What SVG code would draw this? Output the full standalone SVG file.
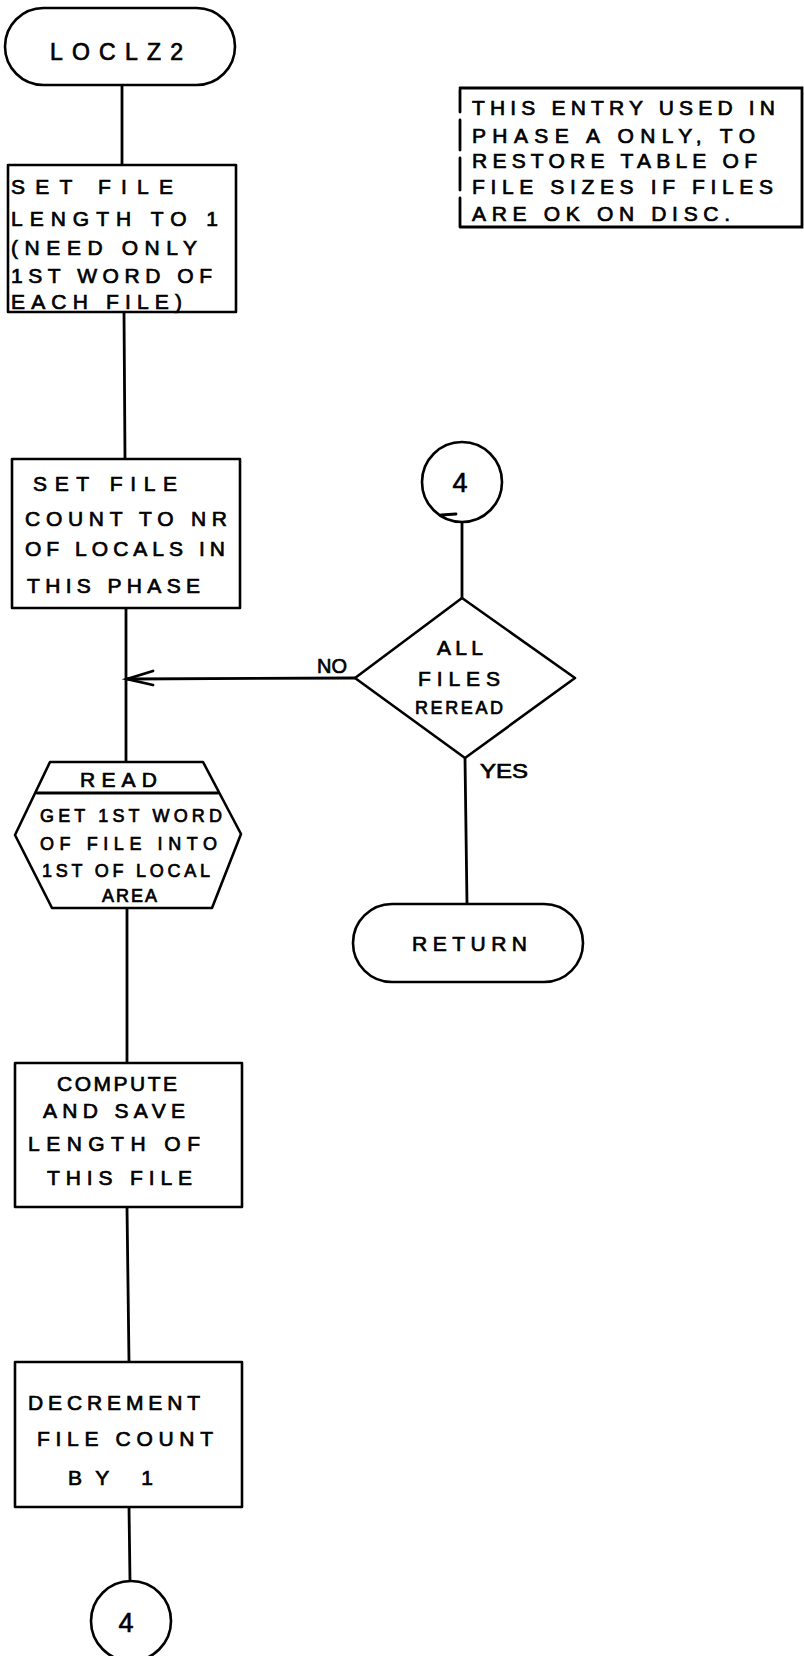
<svg xmlns="http://www.w3.org/2000/svg" width="804" height="1656" viewBox="0 0 804 1656">
  <style>
    .shape { fill: #fff; stroke: #000; stroke-width: 2.6; stroke-linejoin: round; }
    .line { fill: none; stroke: #000; stroke-width: 2.8; stroke-linecap: round; }
    .t { font-family: "Liberation Sans", Arial, sans-serif; font-size: 21px; fill: #000; stroke: #000; stroke-width: 0.7; }
    .big { font-size: 23px; }
    .sm { font-size: 18px; }
    .num { font-family: "Liberation Sans", Arial, sans-serif; font-size: 27px; fill: #000; stroke: #000; stroke-width: 0.6; text-anchor: middle; }
  </style>
  <rect width="804" height="1656" fill="#fff"/>

  <!-- connectors -->
  <g id="connectors">
    <line class="line" x1="122" y1="85" x2="122" y2="165"/>
    <line class="line" x1="124" y1="312" x2="125" y2="459"/>
    <line class="line" x1="126" y1="608" x2="126" y2="762"/>
    <line class="line" x1="127" y1="908" x2="127" y2="1063"/>
    <line class="line" x1="127" y1="1207" x2="129" y2="1362"/>
    <line class="line" x1="129" y1="1507" x2="130" y2="1581"/>
    <line class="line" x1="462" y1="523" x2="462" y2="598"/>
    <line class="line" x1="465" y1="758" x2="467" y2="904"/>
    <!-- NO branch back to the main flow -->
    <line class="line" x1="355" y1="678" x2="127" y2="679"/>
    <polyline class="line" points="153,671 127,679 153,685"/>
    <text class="t" x="317" y="673" textLength="30" lengthAdjust="spacingAndGlyphs">NO</text>
    <text class="t" x="480" y="778" textLength="48" lengthAdjust="spacingAndGlyphs">YES</text>
  </g>

  <!-- entry terminal -->
  <g id="start">
    <rect class="shape" x="5" y="8" width="230" height="77" rx="38.5" ry="38.5"/>
    <text class="t big" x="50" y="60" textLength="133" lengthAdjust="spacing">LOCLZ2</text>
  </g>

  <!-- side note -->
  <g id="note">
    <path class="line" d="M460,88 H802 V227 H460" stroke-width="2.2"/>
    <path class="line" d="M460,90 V112 M460,120 V150 M460,158 V190 M460,198 V226" stroke-width="2.2"/>
    <text class="t" x="472" y="115" textLength="303" lengthAdjust="spacing">THIS ENTRY USED IN</text>
    <text class="t" x="472" y="143" textLength="283" lengthAdjust="spacing">PHASE A ONLY, TO</text>
    <text class="t" x="472" y="168" textLength="285" lengthAdjust="spacing">RESTORE TABLE OF</text>
    <text class="t" x="472" y="194" textLength="301" lengthAdjust="spacing">FILE SIZES IF FILES</text>
    <text class="t" x="472" y="221" textLength="258" lengthAdjust="spacing">ARE OK ON DISC.</text>
  </g>

  <!-- set file length -->
  <g id="set-length">
    <rect class="shape" x="8" y="165" width="228" height="147"/>
    <text class="t" x="11" y="194" textLength="162" lengthAdjust="spacing">SET FILE</text>
    <text class="t" x="11" y="226" textLength="207" lengthAdjust="spacing">LENGTH TO 1</text>
    <text class="t" x="11" y="255" textLength="186" lengthAdjust="spacing">(NEED ONLY</text>
    <text class="t" x="11" y="283" textLength="201" lengthAdjust="spacing">1ST WORD OF</text>
    <text class="t" x="11" y="309" textLength="171" lengthAdjust="spacing">EACH FILE)</text>
  </g>

  <!-- set file count -->
  <g id="set-count">
    <rect class="shape" x="12" y="459" width="228" height="149"/>
    <text class="t" x="33" y="491" textLength="144" lengthAdjust="spacing">SET FILE</text>
    <text class="t" x="25" y="526" textLength="202" lengthAdjust="spacing">COUNT TO NR</text>
    <text class="t" x="25" y="556" textLength="200" lengthAdjust="spacing">OF LOCALS IN</text>
    <text class="t" x="27" y="593" textLength="173" lengthAdjust="spacing">THIS PHASE</text>
  </g>

  <!-- connector 4 (entry) -->
  <g id="conn4-in">
    <circle class="shape" cx="462" cy="482" r="40"/>
    <text class="num" x="460" y="492">4</text>
    <line class="line" x1="441" y1="515" x2="456" y2="514" stroke-width="2"/>
  </g>

  <!-- decision -->
  <g id="all-reread">
    <polygon class="shape" points="462,598 575,678 465,758 355,678"/>
    <text class="t" x="437" y="655" textLength="46" lengthAdjust="spacing">ALL</text>
    <text class="t" x="418" y="686" textLength="82" lengthAdjust="spacing">FILES</text>
    <text class="t sm" x="415" y="714" textLength="88" lengthAdjust="spacing">REREAD</text>
  </g>

  <!-- exit terminal -->
  <g id="return">
    <rect class="shape" x="353" y="904" width="230" height="78" rx="39" ry="39"/>
    <text class="t" x="412" y="951" textLength="115" lengthAdjust="spacing">RETURN</text>
  </g>

  <!-- read -->
  <g id="read">
    <polygon class="shape" points="50,762 203,762 241,834 212,908 52,908 15,835"/>
    <line class="line" x1="37" y1="793" x2="218" y2="793" stroke-width="2.4"/>
    <text class="t" x="80" y="787" textLength="77" lengthAdjust="spacing">READ</text>
    <text class="t sm" x="40" y="822" textLength="182" lengthAdjust="spacing">GET 1ST WORD</text>
    <text class="t sm" x="40" y="850" textLength="177" lengthAdjust="spacing">OF FILE INTO</text>
    <text class="t sm" x="42" y="877" textLength="168" lengthAdjust="spacing">1ST OF LOCAL</text>
    <text class="t sm" x="102" y="902" textLength="55" lengthAdjust="spacing">AREA</text>
  </g>

  <!-- compute length -->
  <g id="compute">
    <rect class="shape" x="15" y="1063" width="227" height="144"/>
    <text class="t" x="57" y="1091" textLength="120" lengthAdjust="spacing">COMPUTE</text>
    <text class="t" x="43" y="1118" textLength="142" lengthAdjust="spacing">AND SAVE</text>
    <text class="t" x="28" y="1151" textLength="172" lengthAdjust="spacing">LENGTH OF</text>
    <text class="t" x="47" y="1185" textLength="145" lengthAdjust="spacing">THIS FILE</text>
  </g>

  <!-- decrement -->
  <g id="decrement">
    <rect class="shape" x="15" y="1362" width="227" height="145"/>
    <text class="t" x="28" y="1410" textLength="172" lengthAdjust="spacing">DECREMENT</text>
    <text class="t" x="37" y="1446" textLength="176" lengthAdjust="spacing">FILE COUNT</text>
    <text class="t" x="68" y="1485" textLength="85" lengthAdjust="spacing">BY 1</text>
  </g>

  <!-- connector 4 (exit) -->
  <g id="conn4-out">
    <circle class="shape" cx="131" cy="1621" r="40"/>
    <text class="num" x="126" y="1632">4</text>
  </g>
</svg>
